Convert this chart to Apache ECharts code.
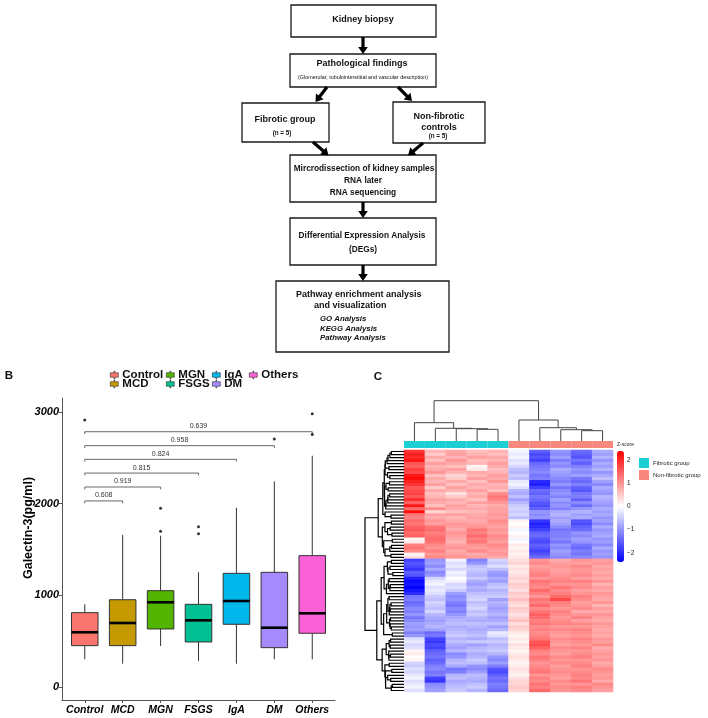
<!DOCTYPE html>
<html><head><meta charset="utf-8">
<script src="https://cdn.jsdelivr.net/npm/echarts@6/dist/echarts.min.js"></script>
<style>html,body{margin:0;padding:0;background:#fff}#c{width:708px;height:718px}</style>
</head><body><div id="c"></div>
<script>
// ---------- Panel B data ----------
const groups = ['Control','MCD','MGN','FSGS','IgA','DM','Others'];
const groupColors = ['#F8766D','#C49A00','#53B400','#00C094','#00B6EB','#A58AFF','#FB61D7'];
const whiskerLow  = [302, 254, 447, 284, 254, 302, 302];
const q1          = [451, 451, 633, 491, 684, 429, 586];
const median      = [597, 698, 924, 727, 938, 647, 804];
const q3          = [811, 952, 1051, 902, 1240, 1251, 1433];
const whiskerHigh = [902, 1658, 1651, 1251, 1956, 2244, 2523];
const outliers = [[0,2913],[2,1949],[2,1698],[3,1749],[3,1673],[5,2705],[6,2981],[6,2756]];
const yTicks = [0, 1000, 2000, 3000];
const compTo = [1, 2, 3, 4, 5, 6];
const compP  = ['0.608','0.919','0.815','0.824','0.958','0.639'];
const compY  = [2030, 2182, 2334, 2484, 2633, 2785];

// ---------- Panel C data ----------
const sampleCols = ['F1','F2','F3','F4','F5','N1','N2','N3','N4','N5'];
const sampleGroup = ['Fibrotic group','Fibrotic group','Fibrotic group','Fibrotic group','Fibrotic group',
  'Non-fibrotic group','Non-fibrotic group','Non-fibrotic group','Non-fibrotic group','Non-fibrotic group'];
const annColors = {'Fibrotic group':'#1BCFD5','Non-fibrotic group':'#F8877E'};
const colorTicks = [-2,-1,0,1,2];
const zScores = [
[1.9,0.7,0.8,0.6,0.7,-0.1,-1.5,-1.0,-1.4,-0.8],
[2.1,0.5,0.9,0.7,0.6,-0.2,-1.7,-1.1,-1.5,-0.9],
[2.0,0.8,0.7,0.9,0.8,-0.1,-1.6,-0.9,-1.6,-0.7],
[2.2,0.6,1.0,0.6,0.7,-0.3,-1.8,-1.2,-1.3,-1.0],
[1.6,0.9,0.8,0.7,0.9,-0.2,-1.4,-1.0,-1.5,-0.8],
[1.5,0.7,0.6,0.1,0.8,-0.4,-1.3,-1.1,-1.2,-0.9],
[1.8,0.8,0.9,0.2,0.6,-0.6,-1.2,-0.8,-1.0,-0.7],
[1.7,1.0,0.7,0.8,0.7,-0.7,-1.1,-0.9,-1.1,-1.0],
[2.2,0.6,0.4,0.7,0.9,-0.5,-1.3,-1.0,-0.9,-0.8],
[2.3,0.8,0.5,0.9,0.8,-0.6,-1.2,-1.1,-1.3,-0.6],
[2.1,0.7,0.8,0.6,1.0,-0.2,-2.0,-1.2,-1.4,-0.9],
[1.9,0.9,0.6,0.8,0.7,-0.1,-2.1,-1.0,-1.2,-1.1],
[1.6,0.5,0.9,0.7,0.8,-0.3,-1.8,-1.3,-1.5,-0.8],
[1.7,0.8,0.7,0.9,0.6,-0.7,-1.4,-1.1,-1.6,-0.9],
[1.8,0.6,0.3,0.7,1.1,-0.8,-1.5,-1.0,-1.3,-1.0],
[1.6,0.7,0.5,0.8,1.3,-0.6,-1.3,-1.2,-1.2,-0.7],
[2.0,0.9,0.8,0.6,1.2,-0.9,-1.4,-0.9,-1.5,-0.8],
[1.5,0.8,0.7,0.9,1.0,-0.7,-1.6,-1.1,-1.1,-0.9],
[2.2,0.6,0.9,0.7,0.8,-0.5,-1.7,-1.0,-1.4,-1.0],
[1.4,1.1,0.8,0.8,0.9,-0.4,-1.5,-1.2,-1.0,-0.8],
[2.3,0.4,0.6,0.7,0.9,-0.5,-1.0,-0.8,-0.7,-0.9],
[1.3,0.9,0.9,0.8,1.0,-0.4,-1.1,-0.7,-0.9,-0.8],
[1.2,0.8,0.7,0.9,0.9,-0.6,-1.0,-0.9,-0.8,-1.0],
[1.4,1.0,0.8,0.8,1.1,0.1,-1.9,-0.8,-1.6,-0.9],
[1.3,0.9,1.0,0.9,1.0,0.0,-2.1,-0.9,-1.7,-1.1],
[1.5,1.3,0.9,1.0,0.9,0.1,-2.0,-1.1,-1.5,-0.8],
[1.6,1.4,0.8,1.3,1.0,-0.1,-1.8,-1.3,-1.4,-1.0],
[1.4,1.2,1.0,1.2,0.9,0.0,-1.5,-1.2,-1.0,-0.9],
[1.5,1.3,0.9,1.4,1.1,0.1,-1.4,-1.2,-1.1,-0.8],
[0.1,1.4,0.8,1.2,1.0,-0.1,-1.6,-1.1,-0.9,-1.0],
[0.2,1.3,0.7,1.3,0.9,0.0,-1.7,-1.3,-1.0,-0.9],
[1.2,1.1,0.9,1.0,1.1,0.2,-1.5,-1.0,-1.3,-1.1],
[1.3,1.0,1.0,0.9,1.0,0.1,-1.6,-1.1,-1.4,-0.8],
[1.1,1.2,0.8,1.1,0.9,0.2,-1.8,-0.9,-1.2,-1.0],
[0.1,1.0,0.9,0.8,1.0,0.1,-1.6,-1.0,-1.3,-0.9],
[0.3,1.1,1.0,0.9,0.8,0.2,-1.4,-1.1,-1.1,-1.0],
[-1.8,-1.0,-0.1,-1.2,-0.4,0.3,1.0,0.8,1.0,0.9],
[-1.6,-0.9,-0.3,-1.0,-0.5,0.4,1.1,0.9,0.9,1.0],
[-1.7,-1.1,-0.2,-0.6,-0.3,0.2,0.9,1.0,1.1,0.8],
[-1.9,-0.8,-0.4,-0.5,-0.6,0.3,1.0,0.9,1.0,0.9],
[-1.5,-1.1,-0.1,-0.6,-0.9,0.2,1.1,0.9,1.0,0.8],
[-1.6,-1.0,-0.2,-0.7,-1.0,0.3,1.2,1.0,1.1,0.9],
[-2.1,-0.4,0.0,-0.5,-0.8,0.4,1.0,1.1,0.9,0.8],
[-2.3,-0.2,-0.1,-0.8,-0.9,0.3,1.3,1.2,1.2,1.0],
[-2.2,-0.1,-0.4,-0.9,-0.6,0.5,1.2,1.0,1.0,0.7],
[-2.4,-0.3,-0.3,-0.7,-0.5,0.4,1.1,1.3,1.1,0.9],
[-2.2,-0.2,-0.5,-0.8,-0.7,0.3,1.4,1.1,0.9,0.8],
[-2.0,-0.3,-0.9,-0.6,-0.6,0.5,1.2,1.2,1.0,1.0],
[-1.3,-0.5,-1.1,-0.5,-0.5,0.4,1.0,1.4,1.2,0.9],
[-1.2,-0.6,-1.0,-0.4,-0.9,0.6,1.3,1.7,1.1,0.8],
[-1.4,-0.4,-1.2,-0.6,-0.7,0.4,1.2,1.2,0.9,1.0],
[-1.3,-0.5,-1.3,-0.5,-0.8,0.3,1.4,1.1,1.0,0.7],
[-1.1,-0.6,-1.1,-0.4,-0.9,0.5,1.1,1.0,1.1,0.9],
[-1.2,-0.4,-1.2,-0.6,-0.8,0.4,1.3,1.2,0.8,0.8],
[-1.0,-0.7,-1.0,-0.5,-0.7,0.3,1.5,1.1,1.0,1.0],
[-1.3,-0.8,-0.8,-0.7,-0.9,0.4,1.4,1.0,1.2,0.9],
[-1.1,-0.9,-0.7,-0.8,-0.8,0.6,1.2,1.1,0.9,0.8],
[-0.9,-0.8,-0.6,-0.6,-0.6,0.3,1.3,1.2,1.1,1.0],
[-1.0,-0.7,-0.8,-0.7,-0.9,0.5,1.1,1.0,1.0,0.9],
[-0.9,-0.9,-0.7,-0.8,-0.7,0.4,1.2,1.1,1.2,0.8],
[-1.2,-1.4,-0.6,-0.7,-0.2,0.2,1.1,1.0,1.1,0.9],
[-1.0,-1.3,-0.5,-0.6,-0.3,0.1,1.2,0.9,1.0,0.8],
[-0.3,-1.8,-0.7,-0.8,-0.6,0.2,1.3,1.1,1.2,1.0],
[-0.2,-1.9,-0.6,-0.5,-0.5,0.1,1.6,1.0,1.1,0.9],
[-0.4,-1.7,-0.8,-0.9,-0.7,0.3,1.7,0.9,1.0,1.1],
[-0.3,-1.8,-0.9,-0.7,-0.6,0.2,1.5,1.1,1.2,0.8],
[0.1,-1.5,-0.7,-0.6,-0.5,0.1,1.2,1.0,1.0,0.9],
[0.2,-1.4,-1.1,-0.8,-0.7,0.2,1.1,0.9,1.1,1.0],
[0.0,-1.3,-1.0,-0.7,-1.0,0.3,1.3,1.1,1.2,0.9],
[0.1,-1.5,-0.7,-0.5,-1.1,0.2,1.2,1.0,1.0,1.0],
[-0.4,-1.4,-0.6,-0.6,-0.9,0.1,1.0,1.1,1.1,0.8],
[-0.5,-1.2,-0.8,-1.0,-1.2,0.2,1.1,0.9,1.2,0.9],
[-0.3,-1.1,-1.3,-1.1,-1.6,0.3,1.2,1.0,1.0,1.1],
[-0.4,-1.3,-1.2,-0.9,-1.7,0.2,1.3,1.1,1.1,1.0],
[-0.2,-1.2,-0.7,-0.6,-1.5,0.1,1.0,1.0,1.2,0.9],
[-0.1,-1.8,-0.6,-0.7,-1.3,0.3,1.2,0.9,1.1,1.0],
[-0.3,-1.9,-0.8,-0.8,-1.4,0.4,1.1,1.1,1.3,0.8],
[-0.2,-1.1,-0.7,-0.6,-1.2,0.4,1.3,1.0,1.0,1.1],
[-0.1,-1.0,-0.6,-0.5,-1.3,0.5,1.2,1.1,1.2,1.0],
[-0.3,-0.9,-0.5,-0.7,-1.4,0.4,1.4,1.0,1.1,0.9]
];
// column dendrogram (hclust-style merge table: negative = leaf, positive = earlier merge)
const colMerge  = [[-4,-5],[-9,-10],[-3,1],[-8,2],[-2,3],[-7,4],[-1,5],[-6,6],[7,8]];
const colHeight = [11.7, 10.3, 12.3, 11.3, 12.7, 13.3, 18.3, 21.0, 40.3];

// ---------- helpers ----------
const FONT = '"Liberation Sans", Arial, Helvetica, sans-serif';
function dendroSegments(merge, heights){
  const pos = [], segs = [];
  const info = k => k < 0 ? {p: -k - 0.5, h: 0} : {p: pos[k-1], h: heights[k-1]};
  merge.forEach((m, i) => {
    const a = info(m[0]), b = info(m[1]);
    pos[i] = (a.p + b.p) / 2;
    segs.push([a.p, a.h, b.p, b.h, heights[i]]);
  });
  return segs;
}
function rowDendrogram(rows){
  const D = rows.map(a => rows.map(b => Math.sqrt(a.reduce((s, v, i) => s + (v - b[i]) ** 2, 0))));
  let cl = rows.map((r, i) => ({m: [i], p: i + 0.5, h: 0}));
  const segs = [];
  while (cl.length > 1){
    let best = 0, bd = Infinity;
    for (let i = 0; i < cl.length - 1; i++){
      let d = 0;
      for (const a of cl[i].m) for (const b of cl[i+1].m) d = Math.max(d, D[a][b]);
      if (d < bd){ bd = d; best = i; }
    }
    const A = cl[best], B = cl[best+1];
    segs.push([A.h, A.p, B.h, B.p, bd]);
    cl.splice(best, 2, {m: A.m.concat(B.m), p: (A.p + B.p) / 2, h: bd});
  }
  const hmax = segs[segs.length-1][4];
  const t = h => Math.pow(h / hmax, 0.4);   // display scale for tree height
  return segs.map(s => [t(s[0]), s[1], t(s[2]), s[3], t(s[4])]);
}

// ---------- flowchart (panel A) ----------
function box(x, y, w, h){ return {type:'rect', shape:{x, y, width:w, height:h}, style:{fill:'#fff', stroke:'#1a1a1a', lineWidth:1.3}}; }
function txt(s, x, y, size, o){ o = o || {};
  return {type:'text', x, y, rotation:o.r || 0,
    style:{text:s, x:0, y:0, fontSize:size, fontWeight:o.w || 'bold', fontStyle:o.i ? 'italic' : 'normal',
    fontFamily:FONT, fill:o.c || '#111', align:o.a || 'center', verticalAlign:'middle'}}; }
function arrow(x1, y1, x2, y2){
  const dx = x2 - x1, dy = y2 - y1, L = Math.hypot(dx, dy), ux = dx / L, uy = dy / L;
  const hl = 7, hw = 4.8, bx = x2 - ux * hl, by = y2 - uy * hl;
  return [
    {type:'line', shape:{x1, y1, x2:bx + ux, y2:by + uy}, style:{stroke:'#000', lineWidth:3.2}},
    {type:'polygon', shape:{points:[[x2, y2],[bx - uy * hw, by + ux * hw],[bx + uy * hw, by - ux * hw]]}, style:{fill:'#000'}}
  ];
}
const flow = [].concat(
  [box(291,5,145,32), box(290,54,146,33), box(242,103,87,39), box(393,102,92,41),
   box(290,155,146,47), box(290,218,146,47), box(276,281,173,71)],
  arrow(363,37,363,54), arrow(327,87,315.5,102), arrow(398,87,412,101),
  arrow(313,142,328.5,155.5), arrow(423,143,408,155.5),
  arrow(363,202,363,218), arrow(363,265,363,281),
  [
   txt('Kidney biopsy',363,19.5,9),
   txt('Pathological findings',362,63.5,9),
   txt('(Glomerular, tubulointerstitial and vascular description)',363,78,5.4,{w:'normal'}),
   txt('Fibrotic group',285,120,9),
   txt('(n = 5)',282,133,6.3),
   txt('Non-fibrotic',439,117,9),
   txt('controls',439,128,9),
   txt('(n = 5)',438,136.5,6.3),
   txt('Mircrodissection of kidney samples',364,168.5,8.3),
   txt('RNA later',363,180.5,8.3),
   txt('RNA sequencing',363,192.5,8.3),
   txt('Differential Expression Analysis',362,235.5,8.3),
   txt('(DEGs)',363,250,8.3),
   txt('Pathway enrichment analysis',296,295,9,{a:'left'}),
   txt('and visualization',314,306,9,{a:'left'}),
   txt('GO Analysis',320,319,7.8,{a:'left',i:true}),
   txt('KEGG Analysis',320,328.5,7.8,{a:'left',i:true}),
   txt('Pathway Analysis',320,338,7.8,{a:'left',i:true}),
   txt('B',9,376,11.5),
   txt('C',378,377,11.5),
   txt('Galectin-3(pg/ml)',28.5,528,12.5,{r:Math.PI/2,c:'#000'}),
   txt('Z-score',617,445,5,{a:'left',w:'normal',c:'#222'})
  ]
);

// ---------- build series ----------
const boxSeries = groups.map((g, i) => ({
  type:'custom', name:g, xAxisIndex:0, yAxisIndex:0, itemStyle:{color:groupColors[i]},
  encode:{x:0, y:[1,2,3,4,5]},
  data:[[i, whiskerLow[i], q1[i], median[i], q3[i], whiskerHigh[i]]],
  renderItem:(params, api) => {
    const x = api.value(0);
    const lo = api.coord([x, api.value(1)]), a = api.coord([x, api.value(2)]), md = api.coord([x, api.value(3)]),
          b = api.coord([x, api.value(4)]), hi = api.coord([x, api.value(5)]);
    const hw = api.size([0.7, 0])[0] / 2;
    const ls = {stroke:'#333', lineWidth:1};
    return {type:'group', children:[
      {type:'line', shape:{x1:hi[0], y1:hi[1], x2:b[0], y2:b[1]}, style:ls},
      {type:'line', shape:{x1:a[0], y1:a[1], x2:lo[0], y2:lo[1]}, style:ls},
      {type:'rect', shape:{x:b[0]-hw, y:b[1], width:2*hw, height:a[1]-b[1]}, style:{fill:api.visual('color'), stroke:'#333', lineWidth:1}},
      {type:'line', shape:{x1:md[0]-hw, y1:md[1], x2:md[0]+hw, y2:md[1]}, style:{stroke:'#000', lineWidth:2.6}}
    ]};
  }
}));

const bracketSeries = {
  type:'custom', xAxisIndex:0, yAxisIndex:0, silent:true, encode:{x:[0,1], y:2},
  data: compTo.map((t, i) => [0, t, compY[i], i]),
  renderItem:(params, api) => {
    const x1 = api.value(0), x2 = api.value(1), y = api.value(2), idx = api.value(3);
    const p1 = api.coord([x1, y - 25]), p2 = api.coord([x1, y]), p3 = api.coord([x2, y]), p4 = api.coord([x2, y - 25]);
    return {type:'group', children:[
      {type:'polyline', shape:{points:[p1,p2,p3,p4]}, style:{stroke:'#555', lineWidth:0.9, fill:null}},
      {type:'text', style:{text:compP[idx], x:(p2[0]+p3[0])/2, y:p2[1]-2, align:'center', verticalAlign:'bottom',
        fontSize:7, fontFamily:FONT, fill:'#333'}}
    ]};
  }
};

const heatData = [];
zScores.forEach((row, r) => row.forEach((v, c) => heatData.push([c, r, v])));
const rowNames = zScores.map((_, i) => 'gene' + (i + 1));

const colSegs = dendroSegments(colMerge, colHeight);
const rowSegs = rowDendrogram(zScores);

const colTreeRender = (params, api) => {
  const a = api.value(0), ah = api.value(1), b = api.value(2), bh = api.value(3), h = api.value(4);
  const pts = [[a,ah],[a,h],[b,h],[b,bh]].map(p => api.coord(p));
  return {type:'polyline', shape:{points:pts}, style:{stroke:'#444', lineWidth:1, fill:null}};
};
const rowTreeRender = (params, api) => {
  const ah = api.value(0), ap = api.value(1), bh = api.value(2), bp = api.value(3), h = api.value(4);
  const pts = [[ah,ap],[h,ap],[h,bp],[bh,bp]].map(p => api.coord(p));
  return {type:'polyline', shape:{points:pts}, style:{stroke:'#000', lineWidth:1.2, fill:null}};
};

const hidden = {show:false};
const legendIcon = 'path://M4.5,0 L5.5,0 L5.5,2.2 L10,2.2 L10,7.8 L5.5,7.8 L5.5,10 L4.5,10 L4.5,7.8 L0,7.8 L0,2.2 L4.5,2.2 Z';
const legendPos = {Control:[110,369], MGN:[166,369], IgA:[212,369], Others:[249,369], MCD:[110,378], FSGS:[166,378], DM:[212,378]};
const legends = groups.map(g => ({
  data:[g], left:legendPos[g][0], top:legendPos[g][1], padding:0, itemWidth:8, itemHeight:8, icon:legendIcon,
  itemStyle:{borderColor:'#333', borderWidth:0.6},
  textStyle:{fontSize:11.5, fontWeight:'bold', fontFamily:FONT, color:'#111', lineHeight:12, padding:[0,0,0,-1]},
  selectedMode:false
}));
legends.push({
  data:['Fibrotic group','Non-fibrotic group'], orient:'vertical', left:639, top:458, padding:0, itemGap:2,
  itemWidth:10, itemHeight:10, icon:'rect', selectedMode:false,
  textStyle:{fontSize:6, fontFamily:FONT, color:'#222', lineHeight:10, padding:[0,0,0,-1]}
});

const option = {
  animation:false,
  backgroundColor:'#fff',
  graphic:{elements:flow},
  legend:legends,
  grid:[
    {left:62, top:398, width:273, height:302},
    {left:404, top:450, width:209, height:242},
    {left:404, top:441, width:209, height:7},
    {left:404, top:400.7, width:209, height:40.3},
    {left:365, top:450, width:39, height:242},
    {left:617, top:451, width:7, height:111}
  ],
  xAxis:[
    {type:'value', gridIndex:0, min:-0.6, max:6.6, splitLine:hidden,
     axisLine:{show:true, onZero:false, lineStyle:{color:'#555', width:1}},
     axisTick:{show:true, customValues:[0,1,2,3,4,5,6], length:3, lineStyle:{color:'#555'}},
     axisLabel:{customValues:[0,1,2,3,4,5,6], formatter:v => groups[Math.round(v)], margin:5,
       fontSize:10.5, fontWeight:'bold', fontStyle:'italic', fontFamily:FONT, color:'#000'}},
    {type:'category', gridIndex:1, data:sampleCols, show:false},
    {type:'category', gridIndex:2, data:sampleCols, show:false},
    {type:'value', gridIndex:3, min:0, max:10, show:false},
    {type:'value', gridIndex:4, min:0, max:1, inverse:true, show:false},
    {type:'value', gridIndex:5, min:0, max:1, show:false}
  ],
  yAxis:[
    {type:'value', gridIndex:0, min:-142, max:3153, splitLine:hidden,
     axisLine:{show:true, onZero:false, lineStyle:{color:'#555', width:1}},
     axisTick:{show:true, customValues:yTicks, length:3, lineStyle:{color:'#555'}},
     axisLabel:{customValues:yTicks, margin:3, formatter:v => String(v),
       fontSize:11, fontWeight:'bold', fontStyle:'italic', fontFamily:FONT, color:'#000'}},
    {type:'category', gridIndex:1, data:rowNames, inverse:true, show:false},
    {type:'value', gridIndex:2, min:0, max:1, show:false},
    {type:'value', gridIndex:3, min:0, max:40.3, show:false},
    {type:'value', gridIndex:4, min:0, max:zScores.length, inverse:true, show:false},
    {type:'value', gridIndex:5, min:-2.4, max:2.4, position:'right', splitLine:hidden,
     axisLine:hidden, axisTick:hidden,
     axisLabel:{customValues:colorTicks, margin:3, fontSize:6.5, fontFamily:FONT, color:'#222',
       formatter:v => v < 0 ? '\u2212' + (-v) : String(v)}}
  ],
  visualMap:{
    type:'continuous', min:-2.4, max:2.4, seriesIndex:9, calculable:false, left:617, top:451,
    itemWidth:7, itemHeight:111, padding:0, text:null, hoverLink:false,
    inRange:{color:['#0000FF','#FFFFFF','#FF0000']}
  },
  series:[].concat(boxSeries, [
    {type:'scatter', xAxisIndex:0, yAxisIndex:0, data:outliers, symbolSize:3, itemStyle:{color:'#000'}, silent:true},
    bracketSeries,
    {type:'heatmap', xAxisIndex:1, yAxisIndex:1, data:heatData, itemStyle:{borderWidth:0}, emphasis:{disabled:true}, progressive:0},
    {type:'bar', name:'Fibrotic group', xAxisIndex:2, yAxisIndex:2, stack:'ann', barWidth:'100%',
     itemStyle:{color:annColors['Fibrotic group']},
     data:sampleGroup.map(g => g === 'Fibrotic group' ? 1 : '-')},
    {type:'bar', name:'Non-fibrotic group', xAxisIndex:2, yAxisIndex:2, stack:'ann', barWidth:'100%',
     itemStyle:{color:annColors['Non-fibrotic group']},
     data:sampleGroup.map(g => g === 'Non-fibrotic group' ? 1 : '-')},
    {type:'custom', xAxisIndex:3, yAxisIndex:3, silent:true, data:colSegs, encode:{x:[0,2], y:[1,3,4]},
     renderItem:colTreeRender},
    {type:'custom', xAxisIndex:4, yAxisIndex:4, silent:true, data:rowSegs, encode:{x:[0,2,4], y:[1,3]},
     renderItem:rowTreeRender}
  ])
};
const chart = echarts.init(document.getElementById('c'));
chart.setOption(option);
</script></body></html>
